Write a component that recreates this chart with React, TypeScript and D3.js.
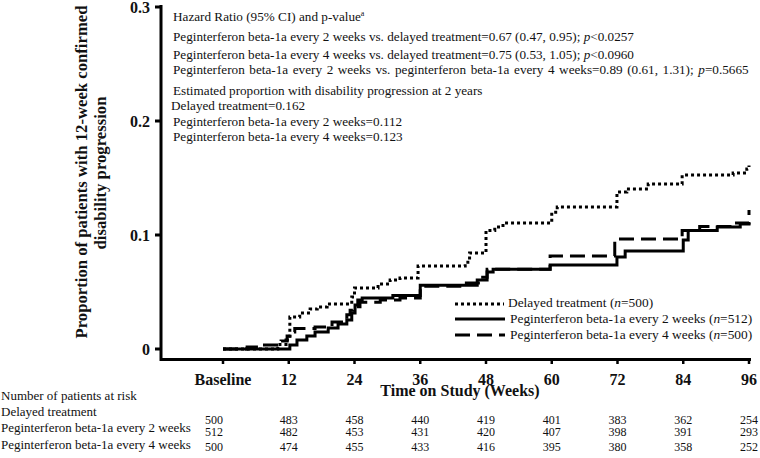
import React from "react";
import * as d3 from "d3";

const xTickWeeks = [0, 12, 24, 36, 48, 60, 72, 84, 96];
const xTickLabels = ["Baseline", "12", "24", "36", "48", "60", "72", "84", "96"];
const yTicks = [0, 0.1, 0.2, 0.3];
const yTickLabels = ["0", "0.1", "0.2", "0.3"];

const weeksDelayed = [0, 10, 11.5, 12.2, 14, 15.9, 17.2, 19, 23.5, 24, 28.3, 30.5, 32.3, 35.6, 44.2, 45, 48, 49.6, 51.1, 60, 61, 71.9, 73.7, 77.6, 83.8, 93.1, 95.6, 96];
const valuesDelayed = [0, 0.004, 0.008, 0.028, 0.0316, 0.035, 0.0368, 0.0395, 0.0456, 0.0535, 0.057, 0.0605, 0.0623, 0.0728, 0.076, 0.0842, 0.104, 0.107, 0.1105, 0.12, 0.1246, 0.1377, 0.1404, 0.1447, 0.1526, 0.1544, 0.158, 0.161];

const weeksQ2W = [0, 12.2, 13.5, 15.3, 16.8, 19.2, 21, 22.6, 23.5, 24.1, 24.6, 25.4, 31, 36, 46.4, 48.2, 49.3, 59.7, 71.9, 73.4, 84, 84.9, 90.2, 94.4, 96];
const valuesQ2W = [0, 0.0035, 0.0079, 0.0114, 0.0149, 0.0184, 0.022, 0.0254, 0.0316, 0.0386, 0.043, 0.0447, 0.047, 0.056, 0.0605, 0.0675, 0.07, 0.0737, 0.0807, 0.086, 0.0956, 0.104, 0.107, 0.1096, 0.1105];

const weeksQ4W = [0, 4.4, 7.3, 10.6, 11.7, 12.2, 13.1, 16.8, 19.9, 22.6, 23.2, 23.7, 25, 28.7, 32.3, 36, 43.8, 46.9, 48.2, 59.7, 71.5, 83.8, 87, 93.4, 96];
const valuesQ4W = [0, 0.0018, 0.0035, 0.007, 0.0114, 0.015, 0.018, 0.0193, 0.0237, 0.03, 0.034, 0.037, 0.041, 0.043, 0.0447, 0.055, 0.058, 0.063, 0.07, 0.0816, 0.0965, 0.104, 0.1075, 0.1105, 0.122];

const riskRowLabels = ["Delayed treatment", "Peginterferon beta-1a every 2 weeks", "Peginterferon beta-1a every 4 weeks"];
const riskDelayed = [500, 483, 458, 440, 419, 401, 383, 362, 254];
const riskQ2W = [512, 482, 453, 431, 420, 407, 398, 391, 293];
const riskQ4W = [500, 474, 455, 433, 416, 395, 380, 358, 252];

const legendLabels = ["Delayed treatment", "Peginterferon beta-1a every 2 weeks", "Peginterferon beta-1a every 4 weeks"];
const legendN = ["500", "512", "500"];

const serif = "'Liberation Serif', 'Times New Roman', serif";
const ink = "#111";

export default function App() {
  const x = d3.scaleLinear().domain([0, 96]).range([223, 749]);
  const y = d3.scaleLinear().domain([0, 0.3]).range([349, 7]);

  const line = d3
    .line<[number, number]>()
    .x((d) => x(d[0]))
    .y((d) => y(d[1]))
    .curve(d3.curveStepAfter);

  const series = [
    { w: weeksDelayed, v: valuesDelayed, dash: "3,3" },
    { w: weeksQ2W, v: valuesQ2W, dash: null },
    { w: weeksQ4W, v: valuesQ4W, dash: "15,7" },
  ];

  const riskRows = [riskDelayed, riskQ2W, riskQ4W];
  const riskBaselines = [424, 436, 451];
  const labelBaselines = [416, 432, 449];

  const annoX = 173;
  const fs = 13.2;

  return (
    <svg
      width={760}
      height={458}
      style={{ position: "absolute", left: 0, top: 0, background: "#fff" }}
      fontFamily={serif}
    >
      <rect width={760} height={458} fill="#fff" />
      {/* Y axis title */}
      <g fontWeight="bold" fontSize={16.7} fill={ink} textAnchor="middle">
        <text transform={`translate(87,172) rotate(-90)`}>Proportion of patients with 12-week confirmed</text>
        <text transform={`translate(106,173) rotate(-90)`}>disability progression</text>
      </g>

      {/* Axes */}
      <line x1={161} x2={161} y1={5} y2={361} stroke="#000" strokeWidth={3} />
      <line x1={160} x2={751} y1={359.5} y2={359.5} stroke="#000" strokeWidth={3} />
      {yTicks.map((t, i) => (
        <g key={"yt" + i}>
          <line x1={155} x2={161} y1={y(t)} y2={y(t)} stroke="#000" strokeWidth={3} />
          <text x={150} y={y(t)} dy="0.36em" textAnchor="end" fontWeight="bold" fontSize={16} fill={ink}>
            {yTickLabels[i]}
          </text>
        </g>
      ))}
      {xTickWeeks.map((w, i) => (
        <g key={"xt" + i}>
          <line x1={x(w)} x2={x(w)} y1={360} y2={364} stroke="#000" strokeWidth={2.5} />
          <text x={x(w)} y={385} textAnchor="middle" fontWeight="bold" fontSize={16} fill={ink}>
            {xTickLabels[i]}
          </text>
        </g>
      ))}
      <text x={460} y={396} textAnchor="middle" fontWeight="bold" fontSize={16} fill={ink}>
        Time on Study (Weeks)
      </text>

      {/* Curves */}
      {series.map((s, i) => (
        <path
          key={"s" + i}
          d={line(s.w.map((w, j) => [w, s.v[j]] as [number, number])) || ""}
          fill="none"
          stroke="#000"
          strokeWidth={3}
          strokeDasharray={s.dash || undefined}
        />
      ))}

      {/* Annotation */}
      <g fontSize={fs} fill={ink}>
        <text x={annoX} y={21}>
          Hazard Ratio (95% CI) and p-value<tspan fontSize={8} dy={-5}>a</tspan>
        </text>
        <text x={annoX} y={41}>
          Peginterferon beta-1a every 2 weeks vs. delayed treatment=0.67 (0.47, 0.95); <tspan fontStyle="italic">p</tspan>&lt;0.0257
        </text>
        <text x={annoX} y={58.5}>
          Peginterferon beta-1a every 4 weeks vs. delayed treatment=0.75 (0.53, 1.05); <tspan fontStyle="italic">p</tspan>&lt;0.0960
        </text>
        <text x={annoX} y={74} wordSpacing={1.3}>
          Peginterferon beta-1a every 2 weeks vs. peginterferon beta-1a every 4 weeks=0.89 (0.61, 1.31); <tspan fontStyle="italic">p</tspan>=0.5665
        </text>
        <text x={annoX} y={94.5}>Estimated proportion with disability progression at 2 years</text>
        <text x={171} y={110}>Delayed treatment=0.162</text>
        <text x={annoX} y={126}>Peginterferon beta-1a every 2 weeks=0.112</text>
        <text x={annoX} y={141}>Peginterferon beta-1a every 4 weeks=0.123</text>
      </g>

      {/* Legend */}
      <g>
        <line x1={455} x2={504} y1={304} y2={304} stroke="#000" strokeWidth={3} strokeDasharray="3,3" />
        <line x1={455} x2={505} y1={319} y2={319} stroke="#000" strokeWidth={3} />
        <line x1={455} x2={505} y1={335} y2={335} stroke="#000" strokeWidth={3} strokeDasharray="15,7" />
        {legendLabels.map((l, i) => (
          <text key={"lg" + i} x={i === 0 ? 508 : 510} y={[307, 323, 339][i]} fontSize={13.4} fill={ink}>
            {l} (<tspan fontStyle="italic">n</tspan>={legendN[i]})
          </text>
        ))}
      </g>

      {/* At-risk table */}
      <g fontSize={13} fill={ink}>
        <text x={1} y={400}>Number of patients at risk</text>
        {riskRowLabels.map((l, i) => (
          <text key={"rl" + i} x={1} y={labelBaselines[i]}>
            {l}
          </text>
        ))}
      </g>
      <g fontSize={12} fill={ink} textAnchor="middle">
        {riskRows.map((row, r) =>
          row.map((n, j) => (
            <text key={"rn" + r + "-" + j} x={j === 0 ? x(xTickWeeks[j]) - 9 : x(xTickWeeks[j])} y={riskBaselines[r]}>
              {n}
            </text>
          ))
        )}
      </g>
    </svg>
  );
}
